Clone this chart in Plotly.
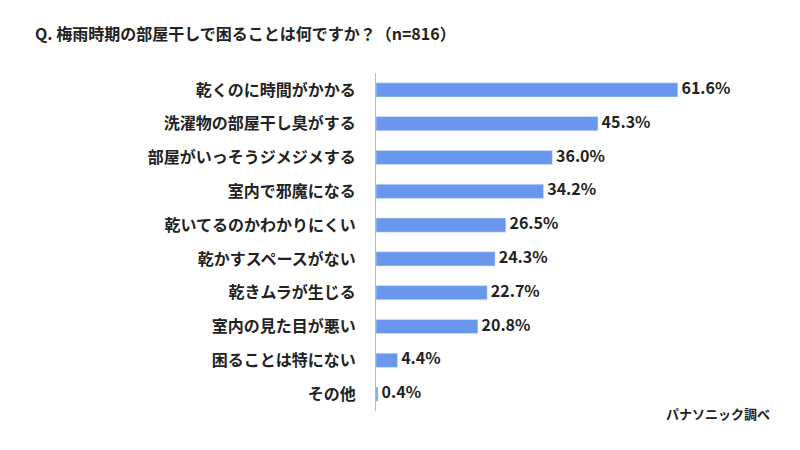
import plotly.graph_objects as go

categories = ["乾くのに時間がかかる","洗濯物の部屋干し臭がする","部屋がいっそうジメジメする","室内で邪魔になる",
              "乾いてるのかわかりにくい","乾かすスペースがない","乾きムラが生じる","室内の見た目が悪い",
              "困ることは特にない","その他"]
values = [61.6,45.3,36.0,34.2,26.5,24.3,22.7,20.8,4.4,0.4]
labels = [f" {v:.1f}%" for v in values]

F = "Noto Sans CJK JP"
OFF = 8
L, R, T, B = 376 - OFF, 32 + OFF, 73 - OFF, 39 + OFF
fig = go.Figure()
fig.add_trace(go.Bar(y=categories, x=values, orientation="h", marker_color="#6A97EE", hoverinfo="skip"))
fig.add_trace(go.Scatter(y=categories, x=values, mode="text", text=labels, textposition="middle right",
                         cliponaxis=False,
                         textfont=dict(family=F, size=16, color="#222", weight="bold")))
fig.update_layout(
    width=800, height=450, paper_bgcolor="white", plot_bgcolor="white",
    margin=dict(l=L, r=R, t=T, b=B, autoexpand=False), bargap=0.58, showlegend=False,
    font=dict(family=F, color="#222"),
    xaxis=dict(range=[0, 80], visible=False),
    yaxis=dict(autorange="reversed", showline=True, linecolor="#bbb", linewidth=1,
               ticks="", ticklabelstandoff=16, automargin=False,
               tickfont=dict(family=F, size=16, color="#222", weight="bold")),
)
def ann(text, px, py, size, anchor):
    px -= OFF; py -= OFF
    fig.add_annotation(text=text, x=(px - L) / (800 - L - R), y=1 - (py - T) / (450 - T - B),
                       xref="paper", yref="paper", showarrow=False, xanchor=anchor, yanchor="middle",
                       font=dict(family=F, size=size, color="#222", weight="bold"))
ann("Q. 梅雨時期の部屋干しで困ることは何ですか？（n=816）", 33, 33, 16, "left")
ann("パナソニック調べ", 772, 413, 13, "right")
fig.write_html("out.html")
